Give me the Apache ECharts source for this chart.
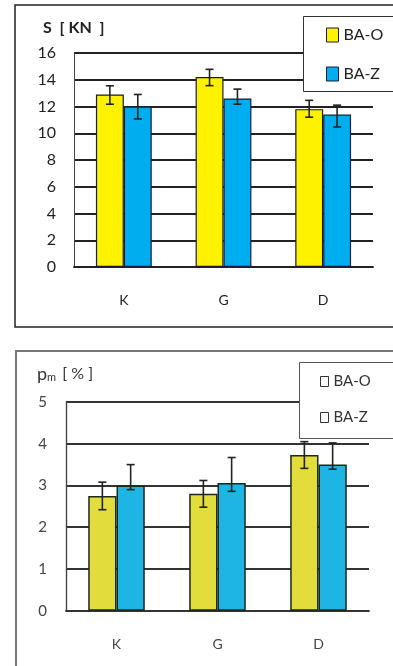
<!DOCTYPE html>
<html><head><meta charset="utf-8">
<script src="https://cdn.jsdelivr.net/npm/echarts@6/dist/echarts.min.js"></script>
<style>html,body{margin:0;padding:0;background:#fff}#c{width:393px;height:666px}</style>
</head><body><div id="c"></div>
<script>
const categories = ['K', 'G', 'D'];
const seriesNames = ['BA-O', 'BA-Z'];
// Top chart: S [KN]
const sBAO = [12.9, 14.2, 11.8];
const sBAZ = [12.0, 12.6, 11.4];
const sBAOLow = [12.17, 13.56, 11.2];
const sBAOHigh = [13.55, 14.78, 12.46];
const sBAZLow = [11.07, 12.17, 10.47];
const sBAZHigh = [12.9, 13.3, 12.1];
// Bottom chart: pm [%]
const pBAO = [2.75, 2.8, 3.73];
const pBAZ = [3.0, 3.06, 3.5];
const pBAOLow = [2.42, 2.48, 3.41];
const pBAOHigh = [3.08, 3.12, 4.05];
const pBAZLow = [2.9, 2.86, 3.39];
const pBAZHigh = [3.5, 3.67, 4.02];

const FONT = 'Lato';
const GAP = 0.44;

function errData(lo, hi, side) {
  return categories.map((c, i) => [i, lo[i], hi[i], side]);
}
function errSeries(xi, lo, hi, side, color) {
  return {
    type: 'custom', xAxisIndex: xi, yAxisIndex: xi, z: 5, silent: true,
    data: errData(lo, hi, side),
    renderItem: function (params, api) {
      const i = api.value(0), l = api.value(1), h = api.value(2), s = api.value(3);
      const pH = api.coord([i, h]), pL = api.coord([i, l]);
      const band = api.size([1, 0])[0];
      const bw = band * (1 - GAP) / 2;
      const cx = pH[0] + s * bw / 2;
      const cap = 4;
      const st = { stroke: color, lineWidth: 1.6 };
      return { type: 'group', children: [
        { type: 'line', shape: { x1: cx, y1: pH[1], x2: cx, y2: pL[1] }, style: st },
        { type: 'line', shape: { x1: cx - cap, y1: pH[1], x2: cx + cap, y2: pH[1] }, style: st },
        { type: 'line', shape: { x1: cx - cap, y1: pL[1], x2: cx + cap, y2: pL[1] }, style: st }
      ]};
    }
  };
}

const chart = echarts.init(document.getElementById('c'), null, { renderer: 'canvas' });
chart.setOption({
  animation: false,
  backgroundColor: '#fff',
  textStyle: { fontFamily: FONT },
  grid: [
    { left: 74, top: 53, width: 299, height: 214 },
    { left: 66, top: 402, width: 303, height: 208.7 }
  ],
  xAxis: [
    { gridIndex: 0, type: 'category', data: categories,
      axisLine: { show: true, lineStyle: { color: '#222', width: 1.8 } },
      axisTick: { show: false },
      axisLabel: { margin: 26, fontSize: 14, color: '#222', fontFamily: FONT } },
    { gridIndex: 1, type: 'category', data: categories,
      axisLine: { show: true, lineStyle: { color: '#333', width: 1.8 } },
      axisTick: { show: false },
      axisLabel: { margin: 27, fontSize: 14, color: '#444', fontFamily: FONT } }
  ],
  yAxis: [
    { gridIndex: 0, type: 'value', min: 0, max: 16, interval: 2,
      axisLine: { show: true, lineStyle: { color: '#444', width: 1 } },
      axisTick: { show: false },
      splitLine: { lineStyle: { color: '#222', width: 1.8 } },
      axisLabel: { margin: 18, fontSize: 16, color: '#222', fontFamily: FONT } },
    { gridIndex: 1, type: 'value', min: 0, max: 5, interval: 1,
      axisLine: { show: true, lineStyle: { color: '#444', width: 1.4 } },
      axisTick: { show: false },
      splitLine: { lineStyle: { color: '#333', width: 1.8 } },
      axisLabel: { margin: 19, fontSize: 15, color: '#444', fontFamily: FONT } }
  ],
  legend: [
    { orient: 'vertical', left: 303, top: 16, z: 20,
      padding: [11, 10, 9, 23], itemGap: 23, itemWidth: 12, itemHeight: 14,
      backgroundColor: 'transparent', borderWidth: 0,
      textStyle: { fontSize: 16, color: '#222', fontFamily: FONT },
      data: [
        { name: seriesNames[0], icon: 'rect', itemStyle: { color: '#fff200', borderColor: '#1a1a3a', borderWidth: 1 } },
        { name: seriesNames[1], icon: 'rect', itemStyle: { color: '#00aeef', borderColor: '#1a1a3a', borderWidth: 1 } }
      ] },
    { orient: 'vertical', left: 299, top: 362, z: 20,
      padding: [12, 10, 10, 21], itemGap: 21, itemWidth: 8, itemHeight: 10,
      backgroundColor: 'transparent', borderWidth: 0,
      textStyle: { fontSize: 15, color: '#333', fontFamily: FONT },
      data: [
        { name: seriesNames[0], icon: 'rect', itemStyle: { color: '#fff', borderColor: '#333', borderWidth: 1 } },
        { name: seriesNames[1], icon: 'rect', itemStyle: { color: '#fff', borderColor: '#333', borderWidth: 1 } }
      ] }
  ],
  series: [
    { name: seriesNames[0], type: 'bar', xAxisIndex: 0, yAxisIndex: 0, data: sBAO,
      barGap: '0%', barCategoryGap: '44%',
      itemStyle: { color: '#fff200', borderColor: '#1a1a3a', borderWidth: 1.2 } },
    { name: seriesNames[1], type: 'bar', xAxisIndex: 0, yAxisIndex: 0, data: sBAZ,
      barGap: '0%', barCategoryGap: '44%',
      itemStyle: { color: '#00aeef', borderColor: '#1a1a3a', borderWidth: 1.2 } },
    { name: seriesNames[0], type: 'bar', xAxisIndex: 1, yAxisIndex: 1, data: pBAO,
      barGap: '0%', barCategoryGap: '44%',
      itemStyle: { color: '#e2dd3c', borderColor: '#1a2a1a', borderWidth: 1.5 } },
    { name: seriesNames[1], type: 'bar', xAxisIndex: 1, yAxisIndex: 1, data: pBAZ,
      barGap: '0%', barCategoryGap: '44%',
      itemStyle: { color: '#1eb4e4', borderColor: '#1a2a1a', borderWidth: 1.5 } },
    errSeries(0, sBAOLow, sBAOHigh, -1, '#222'),
    errSeries(0, sBAZLow, sBAZHigh, 1, '#222'),
    errSeries(1, pBAOLow, pBAOHigh, -1, '#222'),
    errSeries(1, pBAZLow, pBAZHigh, 1, '#222')
  ],
  graphic: [
    { type: 'rect', z: 0, silent: true, shape: { x: 15, y: 5, width: 400, height: 322 },
      style: { fill: 'none', stroke: '#222', lineWidth: 1.5 } },
    { type: 'rect', z: 0, silent: true, shape: { x: 16, y: 351, width: 400, height: 400 },
      style: { fill: 'none', stroke: '#777', lineWidth: 2 } },
    { type: 'rect', z: 15, silent: true, shape: { x: 303.5, y: 16.5, width: 120, height: 75 },
      style: { fill: '#fff', stroke: '#333', lineWidth: 1 } },
    { type: 'rect', z: 15, silent: true, shape: { x: 299.5, y: 362.5, width: 120, height: 76 },
      style: { fill: '#fff', stroke: '#555', lineWidth: 1 } },
    { type: 'text', left: 43, top: 20, z: 10, silent: true,
      style: { text: 'S  [ KN  ]', fontSize: 16, fontWeight: 'bold', fill: '#222', fontFamily: FONT } },
    { type: 'text', left: 37, top: 365, z: 10, silent: true,
      style: { text: '{a|p}{b|m}  {c|[ % ]}', fontFamily: FONT,
        rich: { a: { fontSize: 18, fill: '#333', fontFamily: FONT },
                b: { fontSize: 11, fill: '#333', verticalAlign: 'bottom', padding: [7, 0, 0, 0], fontFamily: FONT },
                c: { fontSize: 16, fill: '#333', fontFamily: FONT } } } }
  ]
});
</script></body></html>
